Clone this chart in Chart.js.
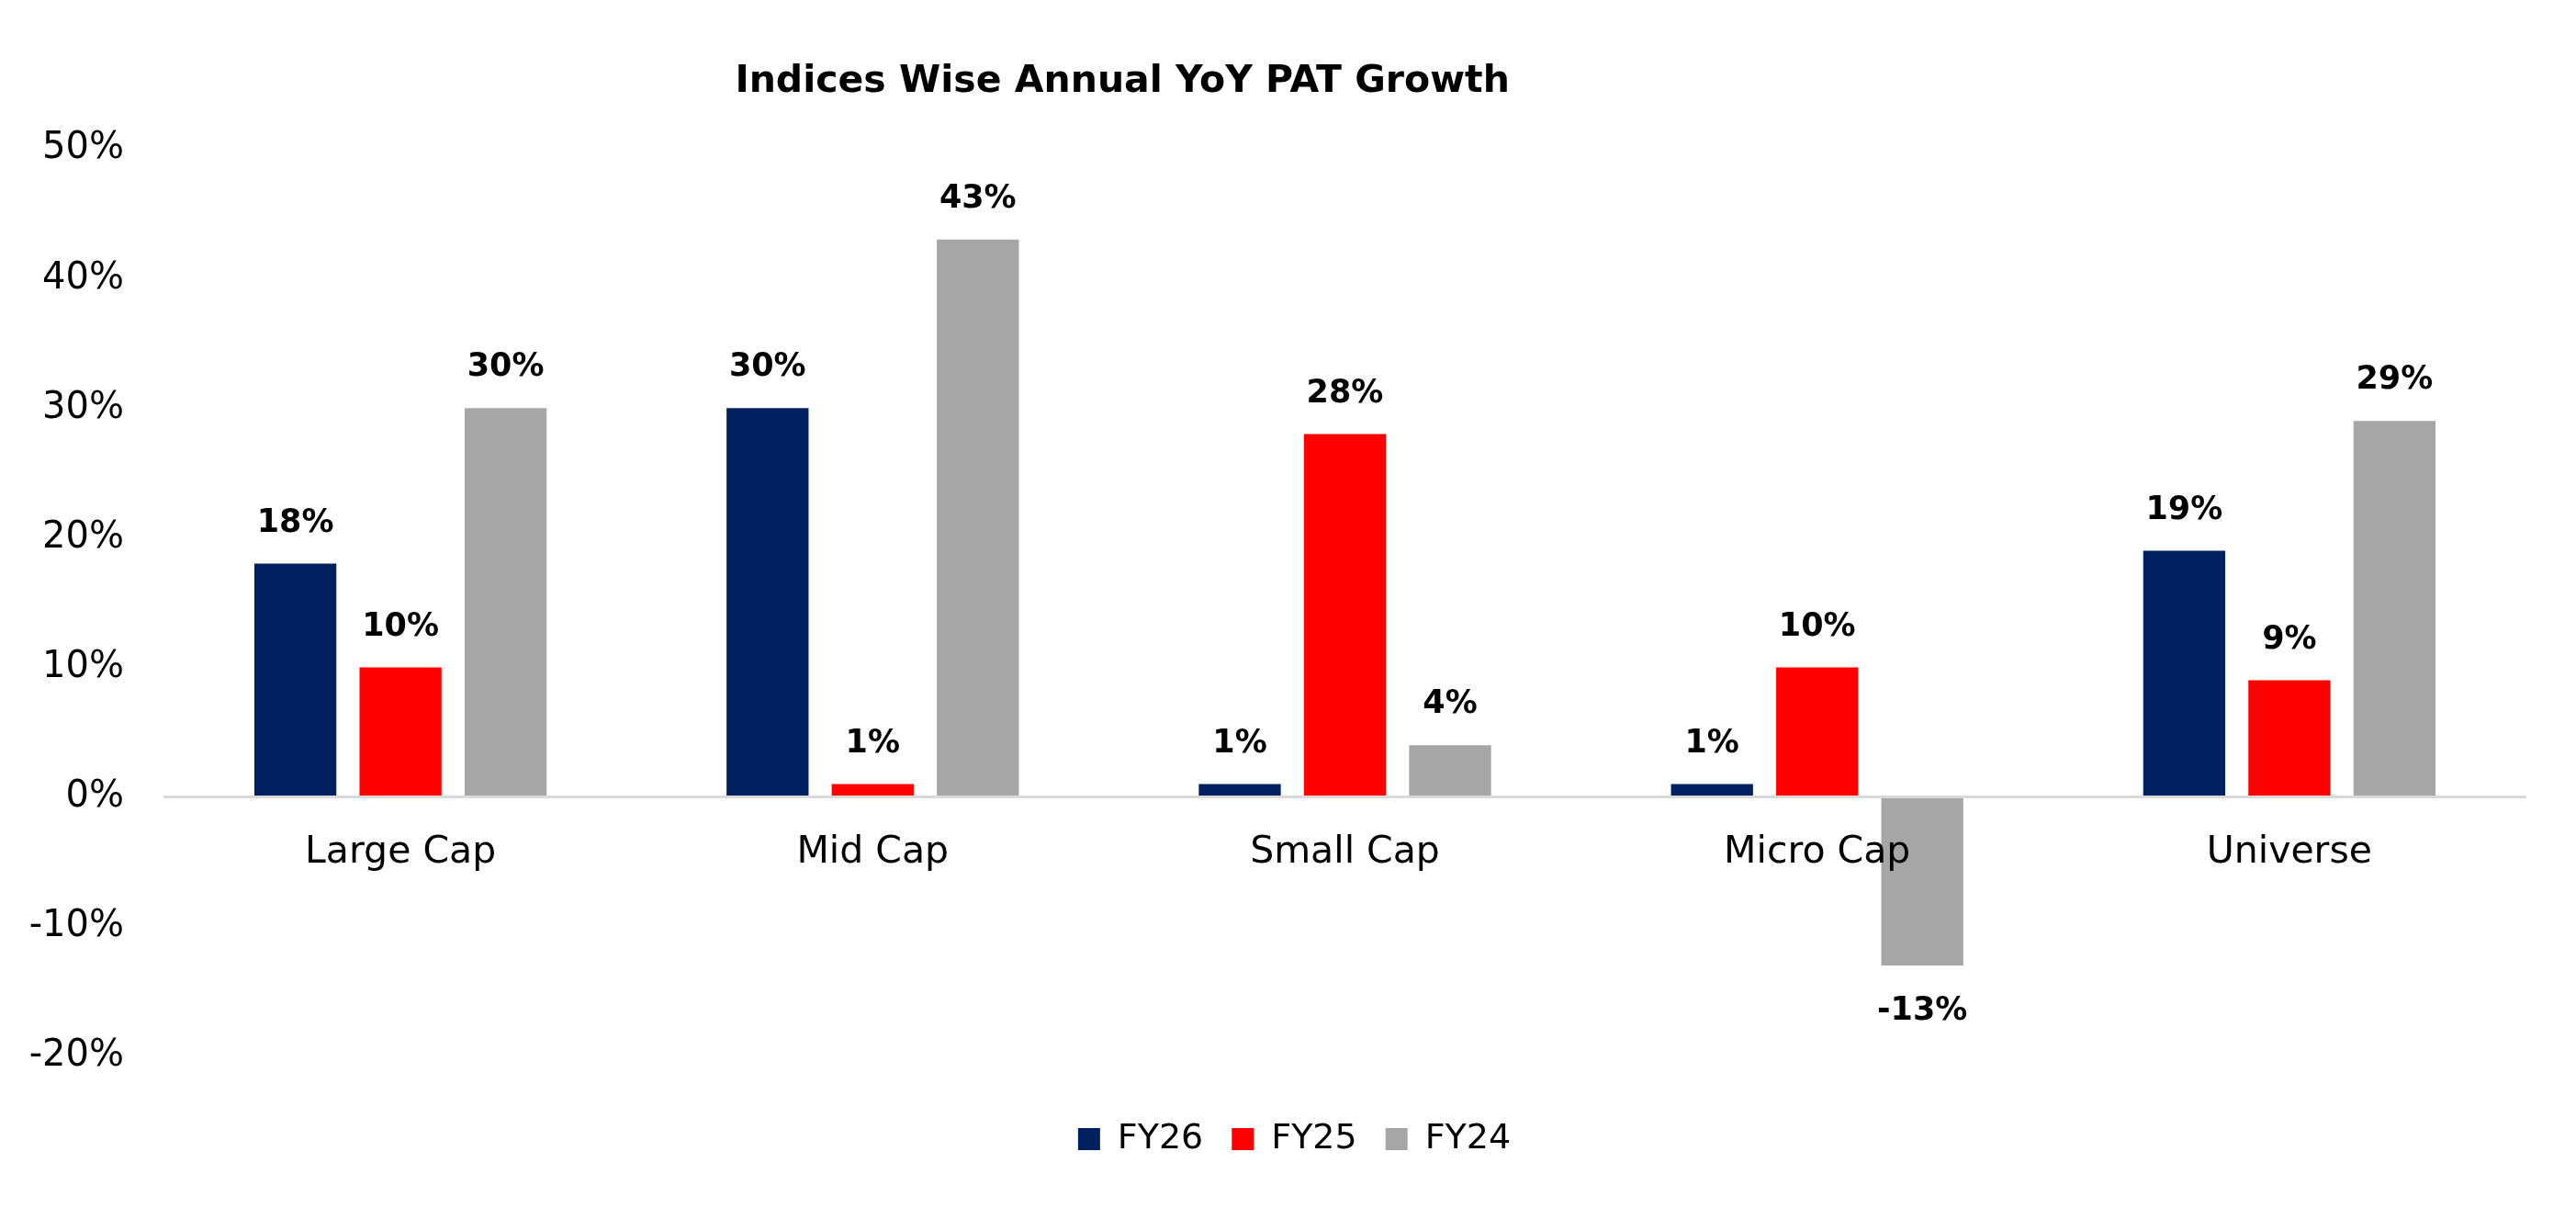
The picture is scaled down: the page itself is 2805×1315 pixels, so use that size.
<!DOCTYPE html>
<html>
<head>
<meta charset="utf-8">
<script src="https://cdn.jsdelivr.net/npm/chart.js@4/dist/chart.umd.min.js"></script>
<style>
  html, body { margin: 0; padding: 0; background: #fff; }
  #wrap { width: 2805px; height: 1315px; position: relative; }
</style>
</head>
<body>
<div id="wrap"><canvas id="growthChart"></canvas></div>
<script>
const categories = ['Large Cap', 'Mid Cap', 'Small Cap', 'Micro Cap', 'Universe'];
const fy26 = [18, 30, 1, 1, 19];
const fy25 = [10, 1, 28, 10, 9];
const fy24 = [30, 43, 4, -13, 29];
const yTicks = [-20, -10, 0, 10, 20, 30, 40, 50];

const FONT = "'DejaVu Sans', 'Noto Sans', sans-serif";
const TITLE = 'Indices Wise Annual YoY PAT Growth';

// title sits left of centre in the original, so draw it by hand
const titlePlugin = {
  id: 'offsetTitle',
  afterDraw(chart) {
    const ctx = chart.ctx;
    ctx.save();
    ctx.font = `bold 41px ${FONT}`;
    ctx.fillStyle = '#000';
    ctx.textAlign = 'center';
    ctx.textBaseline = 'middle';
    ctx.fillText(TITLE, chart.width * 0.4357, 89);
    ctx.restore();
  }
};

// legend in the original is centred on the page, not between the paddings
const legendShift = {
  id: 'legendShift',
  afterLayout(chart) {
    chart.legend.left += 22;
    chart.legend.right += 22;
  }
};

// value labels above (or below) each bar
const valueLabels = {
  id: 'valueLabels',
  afterDatasetsDraw(chart) {
    const ctx = chart.ctx;
    ctx.save();
    ctx.font = `bold 35px ${FONT}`;
    ctx.fillStyle = '#000';
    ctx.textAlign = 'center';
    ctx.textBaseline = 'middle';
    chart.data.datasets.forEach((ds, i) => {
      chart.getDatasetMeta(i).data.forEach((bar, j) => {
        const v = ds.data[j];
        const y = v >= 0 ? bar.y - 44 : bar.y + 50;
        ctx.fillText(v + '%', bar.x, y);
      });
    });
    ctx.restore();
  }
};

new Chart(document.getElementById('growthChart'), {
  type: 'bar',
  data: {
    labels: categories,
    datasets: [
      { label: 'FY26', data: fy26, backgroundColor: '#002060' },
      { label: 'FY25', data: fy25, backgroundColor: '#FF0000' },
      { label: 'FY24', data: fy24, backgroundColor: '#A6A6A6' }
    ]
  },
  options: {
    responsive: true,
    maintainAspectRatio: false,
    devicePixelRatio: 1,
    animation: false,
    categoryPercentage: 0.668,
    barPercentage: 0.78,
    layout: { padding: { top: 162, left: 25, right: 55, bottom: 46 } },
    scales: {
      x: {
        position: { y: 0 },
        grid: { display: false, drawTicks: false },
        border: { display: true, color: '#D9D9D9', width: 3, z: 1 },
        ticks: { color: '#000', font: { family: FONT, size: 41 }, padding: 36, z: 1 }
      },
      y: {
        min: -20,
        max: 50,
        afterBuildTicks(scale) {
          scale.ticks = yTicks.map(v => ({ value: v }));
        },
        afterFit(scale) {
          scale.width = 154;
        },
        grid: { display: false, drawTicks: false },
        border: { display: false },
        ticks: {
          color: '#000',
          font: { family: FONT, size: 40 },
          padding: 44,
          callback: v => v + '%'
        }
      }
    },
    plugins: {
      title: { display: false },
      tooltip: { enabled: false },
      legend: {
        position: 'bottom',
        title: { display: true, text: '', font: { size: 1 }, padding: { top: 39, bottom: 0 } },
        labels: {
          color: '#000',
          font: { family: FONT, size: 38 },
          boxWidth: 24,
          boxHeight: 24,
          padding: 31
        }
      }
    }
  },
  plugins: [titlePlugin, legendShift, valueLabels]
});
</script>
</body>
</html>
